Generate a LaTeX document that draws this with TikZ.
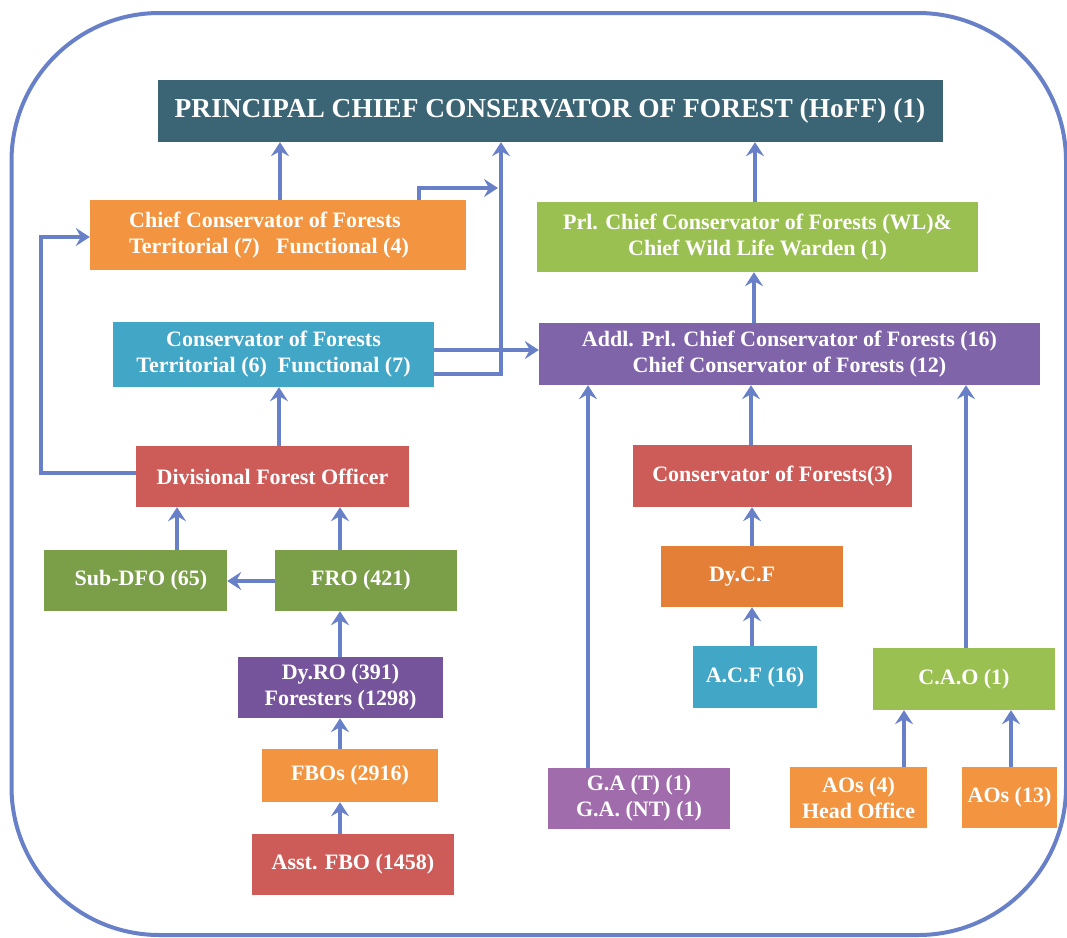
\documentclass[tikz,border=0pt]{standalone}
\usepackage{fontspec}
\setmainfont{Liberation Serif}
\usetikzlibrary{arrows.meta}
\definecolor{arrowc}{RGB}{104,128,200}
\definecolor{cteal}{RGB}{59,101,116}
\definecolor{corange}{RGB}{242,148,64}
\definecolor{cdorange}{RGB}{228,127,56}
\definecolor{clgreen}{RGB}{155,192,82}
\definecolor{cdgreen}{RGB}{122,159,72}
\definecolor{ccyan}{RGB}{66,166,198}
\definecolor{cpurple}{RGB}{128,100,170}
\definecolor{cdpurple}{RGB}{118,84,155}
\definecolor{clpurple}{RGB}{160,108,171}
\definecolor{cred}{RGB}{205,91,88}
\begin{document}
\begin{tikzpicture}[x=1pt,y=-1pt,
  box/.style={rectangle, inner sep=0pt, align=center, text=white,
    font=\bfseries\fontsize{22}{26}\selectfont},
  conn/.style={draw=arrowc, line width=4pt,
    -{Stealth[length=14pt,width=18pt,inset=5pt]}}]
\useasboundingbox (0,0) rectangle (1067,937);
\draw[draw=arrowc, line width=4pt, rounded corners=148pt] (11.5,13) rectangle (1066,935);

% nodes
\node[box, fill=cteal, minimum width=785pt, minimum height=62pt,
  font=\bfseries\fontsize{27.4}{30}\selectfont] (pccf) at (550,111)
  {PRINCIPAL CHIEF CONSERVATOR OF FOREST (HoFF) (1)};
\node[box, fill=corange, minimum width=376pt, minimum height=70pt, align=left] (ccf) at (278,235)
  {Chief Conservator of Forests\\Territorial (7) \ \ Functional (4)\hspace*{18pt}};
\node[box, fill=clgreen, minimum width=441pt, minimum height=70pt] (prl) at (757.5,237)
  {Prl. Chief Conservator of Forests (WL)\&\\Chief Wild Life Warden (1)};
\node[box, fill=ccyan, minimum width=321pt, minimum height=65pt] (cof) at (273.5,354.5)
  {Conservator of Forests\\Territorial (6) \ Functional (7)};
\node[box, fill=cpurple, minimum width=501pt, minimum height=62pt] (addl) at (789.5,354)
  {Addl. Prl. Chief Conservator of Forests (16)\\Chief Conservator of Forests (12)};
\node[box, fill=cred, minimum width=273pt, minimum height=61pt] (dfo) at (272.5,476.5)
  {Divisional Forest Officer};
\node[box, fill=cred, minimum width=279pt, minimum height=62pt] (cof3) at (772.5,476)
  {Conservator of Forests(3)};
\node[box, fill=cdgreen, minimum width=183pt, minimum height=61pt] (subdfo) at (135.5,580.5)
  {\hspace*{11pt}Sub-DFO (65)};
\node[box, fill=cdgreen, minimum width=182pt, minimum height=61pt] (fro) at (366,580.5)
  {FRO (421)\hspace*{10pt}};
\node[box, fill=cdorange, minimum width=182pt, minimum height=61pt] (dycf) at (752,576.5)
  {Dy.C.F\hspace*{20pt}};
\node[box, fill=cdpurple, minimum width=205pt, minimum height=61pt] (dyro) at (340.5,687.5)
  {Dy.RO (391)\\Foresters (1298)};
\node[box, fill=ccyan, minimum width=124pt, minimum height=62pt] (acf) at (755,677)
  {A.C.F (16)};
\node[box, fill=clgreen, minimum width=182pt, minimum height=62pt] (cao) at (964,679)
  {C.A.O (1)};
\node[box, fill=corange, minimum width=176pt, minimum height=53pt] (fbos) at (350,775.5)
  {FBOs (2916)};
\node[box, fill=cred, minimum width=202pt, minimum height=61pt] (asst) at (353,864.5)
  {Asst. FBO (1458)};
\node[box, fill=clpurple, minimum width=182pt, minimum height=61pt] (ga) at (639,798.5)
  {G.A (T) (1)\\G.A. (NT) (1)};
\node[box, fill=corange, minimum width=137pt, minimum height=61pt] (aos4) at (858.5,797.5)
  {AOs (4)\\Head Office};
\node[box, fill=corange, minimum width=95pt, minimum height=61pt] (aos13) at (1009.5,797.5)
  {AOs (13)};

\coordinate (j1) at (498,188);
\coordinate (k1) at (41,237);

% connectors
\draw[conn] (ccf.north -| 280,0) -- (pccf.south -| 280,0);
\draw[conn] (ccf.north -| 419,0) |- (j1);
\draw[conn] (cof.east |- 0,374) -| (pccf.south -| 501,0);
\draw[conn] (cof.east |- 0,350) -- (addl.west |- 0,350);
\draw[conn] (dfo.west |- 0,473) -| (k1) -- (ccf.west |- k1);
\draw[conn] (dfo.north -| 279,0) -- (cof.south -| 279,0);
\draw[conn] (prl.north -| 755,0) -- (pccf.south -| 755,0);
\draw[conn] (addl.north -| 754,0) -- (prl.south -| 754,0);
\draw[conn] (cof3.north -| 751,0) -- (addl.south -| 751,0);
\draw[conn] (dycf.north -| 752,0) -- (cof3.south -| 752,0);
\draw[conn] (acf.north -| 752,0) -- (dycf.south -| 752,0);
\draw[conn] (ga.north -| 588,0) -- (addl.south -| 588,0);
\draw[conn] (cao.north -| 966,0) -- (addl.south -| 966,0);
\draw[conn] (aos4.north -| 904,0) -- (cao.south -| 904,0);
\draw[conn] (aos13.north -| 1011,0) -- (cao.south -| 1011,0);
\draw[conn] (subdfo.north -| 177,0) -- (dfo.south -| 177,0);
\draw[conn] (fro.north -| 340,0) -- (dfo.south -| 340,0);
\draw[conn] (fro.west |- 0,581) -- (subdfo.east |- 0,581);
\draw[conn] (dyro.north -| 340,0) -- (fro.south -| 340,0);
\draw[conn] (fbos.north -| 340,0) -- (dyro.south -| 340,0);
\draw[conn] (asst.north -| 340,0) -- (fbos.south -| 340,0);
\end{tikzpicture}
\end{document}
